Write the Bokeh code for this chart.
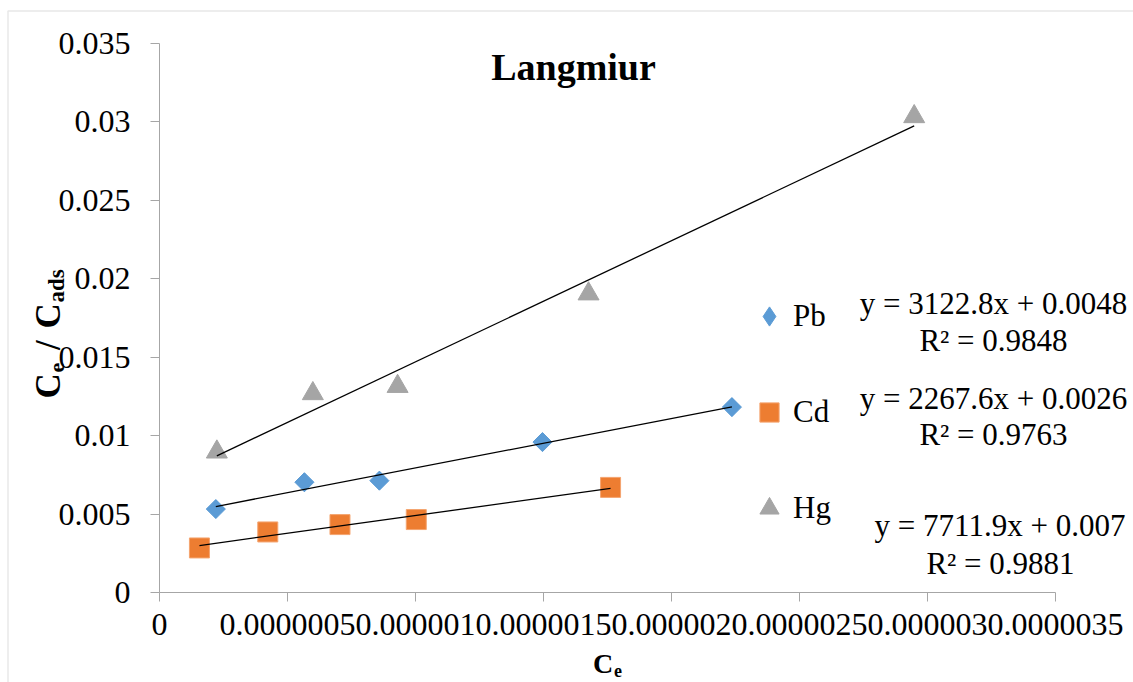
import numpy as np
from bokeh.plotting import figure
from bokeh.models import (Range1d, FixedTicker, CustomJSTickFormatter, Label,
                          Legend, LegendItem, BoxAnnotation)
from bokeh.embed import file_html
from bokeh.resources import INLINE

# ---------------- data ----------------
title_text = "Langmiur"
series_names = ["Pb", "Cd", "Hg"]
series_colors = ["#5B9BD5", "#ED7D31", "#A5A5A5"]

pb_x = [2.20e-7, 5.66e-7, 8.59e-7, 1.496e-6, 2.236e-6]
pb_y = [0.00532, 0.00703, 0.00713, 0.00959, 0.01182]
cd_x = [1.56e-7, 4.23e-7, 7.05e-7, 1.003e-6, 1.762e-6]
cd_y = [0.00284, 0.00386, 0.00433, 0.00465, 0.00670]
hg_x = [2.24e-7, 5.99e-7, 9.30e-7, 1.676e-6, 2.948e-6]
hg_y = [0.00896, 0.01268, 0.01314, 0.01904, 0.03034]

eq_lines = ["y = 3122.8x + 0.0048", "y = 2267.6x + 0.0026", "y = 7711.9x + 0.007"]
r2_lines = ["R² = 0.9848", "R² = 0.9763", "R² = 0.9881"]

x_tick_values = [0, 0.0000005, 0.000001, 0.0000015, 0.000002, 0.0000025, 0.000003, 0.0000035]
x_tick_labels = ["0", "0.0000005", "0.000001", "0.0000015", "0.000002", "0.0000025", "0.000003", "0.0000035"]
y_tick_values = [0, 0.005, 0.01, 0.015, 0.02, 0.025, 0.03, 0.035]
y_tick_labels = ["0", "0.005", "0.01", "0.015", "0.02", "0.025", "0.03", "0.035"]

# ---------------- layout constants (page pixels) ----------------
FONT = "Liberation Serif"
AXIS_GRAY = "#a6a6a6"
W, H = 1133, 682
X0_PX, X1_PX = 159, 1055      # plot-area left / right
Y0_PX, Y1_PX = 592, 43        # plot-area bottom / top

x_min, x_max = x_tick_values[0], x_tick_values[-1]
y_min, y_max = y_tick_values[0], y_tick_values[-1]
kx = (x_max - x_min) / (X1_PX - X0_PX)
ky = (y_max - y_min) / (Y0_PX - Y1_PX)


def dx(px):
    return x_min + (px - X0_PX) * kx


def dy(py):
    return y_min + (Y0_PX - py) * ky


def sx(px):
    return px


def sy(py):
    return H - py


p = figure(width=W, height=H, title=None,
           x_range=Range1d(dx(0), dx(W)), y_range=Range1d(dy(H), dy(0)),
           output_backend="svg", toolbar_location=None,
           min_border_left=0, min_border_right=0, min_border_top=0, min_border_bottom=0)
p.outline_line_color = None
p.background_fill_color = "white"
p.border_fill_color = "white"
p.xgrid.grid_line_color = None
p.ygrid.grid_line_color = None

# chart-area border (top & left edges visible)
p.add_layout(BoxAnnotation(left=dx(7.5), top=dy(10.5), right=dx(W + 20), bottom=dy(H + 20),
                           fill_alpha=0, line_color="#b4b4b4", line_width=1.5, level="underlay"))

fmt_code = """
const i = vals.findIndex(v => Math.abs(v - tick) < 1e-12);
return i >= 0 ? labels[i] : "";
"""
p.xaxis.ticker = FixedTicker(ticks=x_tick_values)
p.xaxis.formatter = CustomJSTickFormatter(args=dict(vals=x_tick_values, labels=x_tick_labels), code=fmt_code)
p.yaxis.ticker = FixedTicker(ticks=y_tick_values)
p.yaxis.formatter = CustomJSTickFormatter(args=dict(vals=y_tick_values, labels=y_tick_labels), code=fmt_code)
p.xaxis.fixed_location = y_min
p.yaxis.fixed_location = x_min
p.xaxis.bounds = (x_min, x_max)
p.yaxis.bounds = (y_min, y_max)

for ax in (p.xaxis[0], p.yaxis[0]):
    ax.axis_line_color = AXIS_GRAY
    ax.axis_line_width = 1
    ax.major_tick_line_color = AXIS_GRAY
    ax.major_tick_out = 9
    ax.major_tick_in = 0
    ax.minor_tick_line_color = None
    ax.major_label_text_font = FONT
    ax.major_label_text_font_size = "32px"
    ax.major_label_text_color = "black"
p.xaxis.major_label_standoff = 12
p.yaxis.major_label_standoff = 20

# ---------------- markers ----------------
# Pb: a narrow diamond (used as the legend key, legend glyphs are never rotated),
# hidden underneath the rotated squares that show the real Excel-like diamonds
r_pb_key = p.scatter(pb_x, pb_y, marker="diamond", size=18,
                     fill_color=series_colors[0], line_color=series_colors[0])
r_pb = p.scatter(pb_x, pb_y, marker="square", angle=np.pi / 4, size=13.5,
                 fill_color=series_colors[0], line_color=series_colors[0])
r_cd = p.scatter(cd_x, cd_y, marker="square", size=20,
                 fill_color=series_colors[1], line_color="#f4a46f", line_width=1)
r_hg = p.scatter(hg_x, hg_y, marker="triangle", size=21,
                 fill_color=series_colors[2], line_color=series_colors[2])

# ---------------- trendlines (least squares) ----------------
for xs, ys in ((pb_x, pb_y), (cd_x, cd_y), (hg_x, hg_y)):
    k, b = np.polyfit(xs, ys, 1)
    lx = [min(xs), max(xs)]
    p.line(lx, [k * v + b for v in lx], line_color="black", line_width=1.3)

# ---------------- legend ----------------
G = 48
legend = Legend(items=[LegendItem(label=n, renderers=[r]) for n, r in zip(series_names, [r_pb_key, r_cd, r_hg])],
                location=(sx(769 - G / 2), sy(508 + G / 2)), orientation="vertical",
                glyph_width=G, glyph_height=G, spacing=96 - G, padding=0, margin=0,
                label_standoff=0, label_text_font=FONT, label_text_font_size="31px",
                label_text_color="black", border_line_color=None, background_fill_alpha=0)
p.add_layout(legend)


# ---------------- texts ----------------
def add_label(text, x, y, size, bold=False, align="left", angle=0.0):
    p.add_layout(Label(x=sx(x), y=sy(y), x_units="screen", y_units="screen", text=text,
                       text_font=FONT, text_font_size=size, text_color="black",
                       text_font_style="bold" if bold else "normal",
                       text_align=align, text_baseline="alphabetic", angle=angle))


add_label(title_text, 573, 66.5, "38px", bold=True, align="center")

eq_pos = [(993, 303, 993, 340), (993, 398, 993, 433.5), (999.5, 525, 1000, 563)]
for eq, r2, (x1, y1, x2, y2) in zip(eq_lines, r2_lines, eq_pos):
    add_label(eq, x1, y1, "31px", align="center")
    add_label(r2, x2, y2, "31px", align="center")

# x-axis title C_e
add_label("C", 592.5, 663, "28px", bold=True)
add_label("e", 613.5, 670, "18px", bold=True)

# y-axis title C_e/C_ads (rotated)
ang = np.pi / 2
add_label("C", 48.3, 398, "35px", bold=True, angle=ang)
add_label("e", 56, 372, "22px", bold=True, angle=ang)
add_label("/", 48.3, 349.5, "35px", bold=True, angle=ang)
add_label("C", 48.3, 328, "35px", bold=True, angle=ang)
add_label("ads", 56, 302, "23px", bold=True, angle=ang)

open("out.html", "w").write(file_html(p, INLINE))
